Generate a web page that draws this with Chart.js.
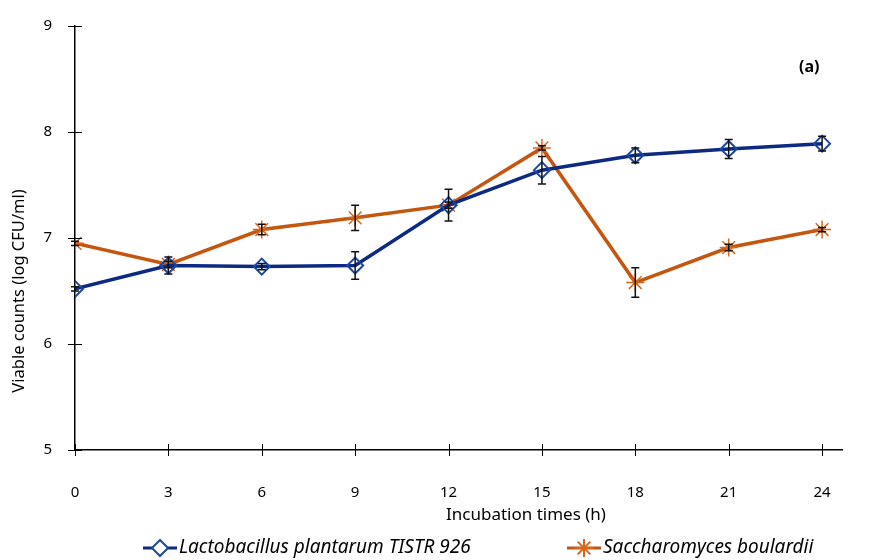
<!DOCTYPE html>
<html>
<head>
<meta charset="utf-8">
<script src="https://cdn.jsdelivr.net/npm/chart.js@4.4.0/dist/chart.umd.min.js"></script>
<style>
  html, body { margin: 0; padding: 0; background: #fff; }
  #wrap { width: 871px; height: 560px; position: relative; }
</style>
</head>
<body>
<div id="wrap"><canvas id="chart"></canvas></div>
<script>
// incubation times (h)
const hours = [0, 3, 6, 9, 12, 15, 18, 21, 24];
const yTicks = [5, 6, 7, 8, 9];

// viable counts, log CFU/ml
const lactoMean = [6.52, 6.74, 6.73, 6.74, 7.31, 7.64, 7.78, 7.84, 7.89];
const lactoErr  = [0.02, 0.08, 0.03, 0.13, 0.15, 0.13, 0.07, 0.09, 0.07];
const sacchMean = [6.95, 6.75, 7.08, 7.19, 7.31, 7.85, 6.58, 6.91, 7.08];
const sacchErr  = [0.02, 0.03, 0.05, 0.12, 0.03, 0.02, 0.14, 0.03, 0.02];

const lactoName = "Lactobacillus plantarum TISTR 926";
const sacchName = "Saccharomyces boulardii";
const xTitle = "Incubation times (h)";
const yTitle = "Viable counts (log CFU/ml)";

const blue = "#0c2a82";
const orange = "#c4560f";
const font = "'Noto Sans', sans-serif";

const toPoints = (ys) => hours.map((h, i) => ({ x: h, y: ys[i] }));

// error bars drawn through the scales
const errorBars = {
  id: "errorBars",
  afterDatasetsDraw(chart) {
    const { ctx, scales: { x, y } } = chart;
    const errs = [lactoErr, sacchErr];
    ctx.save();
    ctx.strokeStyle = "#111";
    ctx.lineWidth = 1.5;
    chart.data.datasets.forEach((ds, d) => {
      ds.data.forEach((p, i) => {
        const px = x.getPixelForValue(p.x);
        const top = y.getPixelForValue(p.y + errs[d][i]);
        const bot = y.getPixelForValue(p.y - errs[d][i]);
        ctx.beginPath();
        ctx.moveTo(px, top); ctx.lineTo(px, bot);
        ctx.moveTo(px - 4, top); ctx.lineTo(px + 4, top);
        ctx.moveTo(px - 4, bot); ctx.lineTo(px + 4, bot);
        ctx.stroke();
      });
    });
    ctx.restore();
  }
};

// axis titles, legend, "(a)" label, crossing tick marks
const extras = {
  id: "extras",
  afterDraw(chart) {
    const { ctx, scales: { x, y } } = chart;
    ctx.save();
    ctx.strokeStyle = "#000";
    ctx.lineWidth = 1;
    hours.forEach(h => {
      const px = Math.round(x.getPixelForValue(h)) + 0.5;
      ctx.beginPath();
      ctx.moveTo(px, y.bottom - 6); ctx.lineTo(px, y.bottom + 6);
      ctx.stroke();
    });
    yTicks.forEach(v => {
      const py = Math.round(y.getPixelForValue(v)) + 0.5;
      ctx.beginPath();
      ctx.moveTo(x.left - 7, py); ctx.lineTo(x.left + 7, py);
      ctx.stroke();
    });

    ctx.fillStyle = "#000";
    ctx.textBaseline = "middle";
    ctx.textAlign = "center";
    ctx.font = "17px " + font;
    ctx.fillText(xTitle, 526, 515);
    ctx.save();
    ctx.translate(19, 291);
    ctx.rotate(-Math.PI / 2);
    ctx.font = "16.5px " + font;
    ctx.fillText(yTitle, 0, 0);
    ctx.restore();

    ctx.textAlign = "left";
    ctx.font = "bold 16px " + font;
    ctx.fillText("(a)", 799, 67);

    const ly = 548;
    const items = [
      { name: lactoName, color: blue, x: 143, style: "rectRot", mk: "#1d47a0", bg: "#fff", r: 8 },
      { name: sacchName, color: orange, x: 567, style: "star", mk: "#d8661a", bg: orange, r: 9 }
    ];
    items.forEach(it => {
      ctx.strokeStyle = it.color;
      ctx.lineWidth = 3;
      ctx.beginPath();
      ctx.moveTo(it.x, ly); ctx.lineTo(it.x + 34, ly);
      ctx.stroke();
      ctx.strokeStyle = it.mk;
      ctx.fillStyle = it.bg;
      ctx.lineWidth = 2;
      Chart.helpers.drawPoint(ctx, { pointStyle: it.style, radius: it.r, rotation: 0, borderWidth: 2 }, it.x + 17, ly);
      ctx.fillStyle = "#000";
      ctx.font = "italic 19px " + font;
      ctx.fillText(it.name, it.x + 36, ly);
    });
    ctx.restore();
  }
};

new Chart(document.getElementById("chart"), {
  type: "line",
  data: {
    datasets: [
      {
        label: lactoName,
        data: toPoints(lactoMean),
        borderColor: blue,
        borderWidth: 3.5,
        pointStyle: "rectRot",
        pointRadius: 8,
        pointBorderWidth: 2,
        pointBorderColor: "#1d47a0",
        pointBackgroundColor: "rgba(255,255,255,0)",
        tension: 0
      },
      {
        label: sacchName,
        data: toPoints(sacchMean),
        borderColor: orange,
        borderWidth: 3.5,
        pointStyle: "star",
        pointRadius: 9,
        pointBorderWidth: 1.5,
        pointBorderColor: "#d8661a",
        pointBackgroundColor: orange,
        tension: 0
      }
    ]
  },
  options: {
    responsive: true,
    maintainAspectRatio: false,
    animation: false,
    layout: { padding: { top: 26, right: 29, left: 0, bottom: 0 } },
    plugins: {
      legend: { display: false },
      tooltip: { enabled: false }
    },
    scales: {
      x: {
        type: "linear",
        min: 0,
        max: 24.64,
        afterBuildTicks: (s) => { s.ticks = hours.map(v => ({ value: v })); },
        afterFit: (s) => { s.height = 110; s.paddingLeft = 0; s.paddingRight = 0; },
        grid: { display: true, drawOnChartArea: false, drawTicks: false },
        border: { color: "#000", width: 1.5 },
        ticks: { color: "#000", font: { family: font, size: 15 }, padding: 34, maxRotation: 0 }
      },
      y: {
        min: 5,
        max: 9,
        afterBuildTicks: (s) => { s.ticks = yTicks.map(v => ({ value: v })); },
        afterFit: (s) => { s.width = 75; s.paddingTop = 0; s.paddingBottom = 0; },
        grid: { display: true, drawOnChartArea: false, drawTicks: false },
        border: { color: "#000", width: 1.5 },
        ticks: { color: "#000", font: { family: font, size: 15 }, padding: 23 }
      }
    }
  },
  plugins: [errorBars, extras]
});
</script>
</body>
</html>
